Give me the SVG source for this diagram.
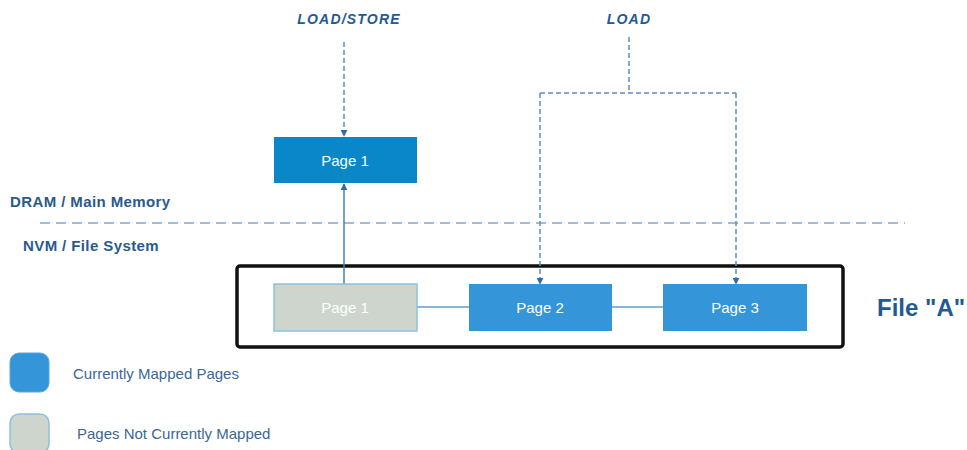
<svg xmlns="http://www.w3.org/2000/svg" width="967" height="450" viewBox="0 0 967 450">
  <defs>
    <marker id="tri" viewBox="0 0 10 10" refX="9" refY="5" markerWidth="7" markerHeight="7" markerUnits="userSpaceOnUse" orient="auto">
      <path d="M0,0 L10,5 L0,10 z" fill="#2e6ea6"/>
    </marker>
    <style>
      .lbl { font-family: "Liberation Sans", Arial, sans-serif; }
      .op { font-size: 14px; font-weight: bold; font-style: italic; fill: #1f5a95; letter-spacing: 1.2px; }
      .tier { font-size: 15px; font-weight: bold; fill: #2a5a8c; letter-spacing: 0.4px; }
      .pg { font-size: 15px; fill: #ffffff; text-anchor: middle; }
      .mapped { fill: #3595d9; }
      .dram { fill: #0a87c9; }
      .unmapped { fill: #cdd5cd; stroke: #8ec0e0; stroke-width: 1.5; }
      .dash { fill: none; stroke: #5b8fbf; stroke-width: 1.5; stroke-dasharray: 5 3; }
      .link { fill: none; stroke: #5c9fd0; stroke-width: 1.5; }
      .legend { font-size: 15px; fill: #3a6796; }
    </style>
  </defs>

  <!-- operation labels -->
  <text class="lbl op" x="349" y="24" text-anchor="middle">LOAD/STORE</text>
  <text class="lbl op" x="629" y="24" text-anchor="middle">LOAD</text>

  <!-- tier labels and boundary -->
  <text class="lbl tier" x="10" y="207">DRAM / Main Memory</text>
  <text class="lbl tier" x="23" y="251">NVM / File System</text>
  <line x1="40" y1="223" x2="905" y2="223" stroke="#9dbcd8" stroke-width="2" stroke-dasharray="10 6"/>

  <!-- file container -->
  <rect id="fileA" x="237" y="266" width="606" height="81" rx="3" fill="none" stroke="#111111" stroke-width="3.5"/>
  <text class="lbl" x="877" y="316" font-size="24" font-weight="bold" fill="#1f5a95">File "A"</text>

  <!-- connectors -->
  <g id="connectors">
    <line class="dash" x1="344" y1="42" x2="344" y2="136" marker-end="url(#tri)"/>
    <path class="dash" d="M629,37 V93 M540,93 H736 M540,93 V284 M736,93 V284"/>
    <line x1="540" y1="278" x2="540" y2="284" stroke="none" marker-end="url(#tri)"/>
    <line x1="736" y1="278" x2="736" y2="284" stroke="none" marker-end="url(#tri)"/>
    <line x1="344" y1="284" x2="344" y2="184" stroke="#4a7fb0" stroke-width="1.5" marker-end="url(#tri)"/>
    <line class="link" x1="417" y1="307" x2="469" y2="307"/>
    <line class="link" x1="612" y1="307" x2="663" y2="307"/>
  </g>

  <!-- pages -->
  <g id="dram-page1">
    <rect class="dram" x="274" y="137" width="143" height="46"/>
    <text class="lbl pg" x="345" y="166">Page 1</text>
  </g>
  <g id="nvm-page1">
    <rect class="unmapped" x="274" y="284" width="143" height="47"/>
    <text class="lbl pg" x="345" y="313" fill="#f2f4f2">Page 1</text>
  </g>
  <g id="nvm-page2">
    <rect class="mapped" x="469" y="284" width="143" height="47"/>
    <text class="lbl pg" x="540" y="313">Page 2</text>
  </g>
  <g id="nvm-page3">
    <rect class="mapped" x="663" y="284" width="144" height="47"/>
    <text class="lbl pg" x="735" y="313">Page 3</text>
  </g>

  <!-- legend -->
  <g id="legend-mapped">
    <rect class="mapped" x="10" y="353" width="39" height="39" rx="9" stroke="#5aa6dd" stroke-width="1"/>
    <text class="lbl legend" x="73" y="379">Currently Mapped Pages</text>
  </g>
  <g id="legend-unmapped">
    <rect class="unmapped" x="10" y="414" width="39" height="39" rx="9"/>
    <text class="lbl legend" x="77" y="439">Pages Not Currently Mapped</text>
  </g>
</svg>
